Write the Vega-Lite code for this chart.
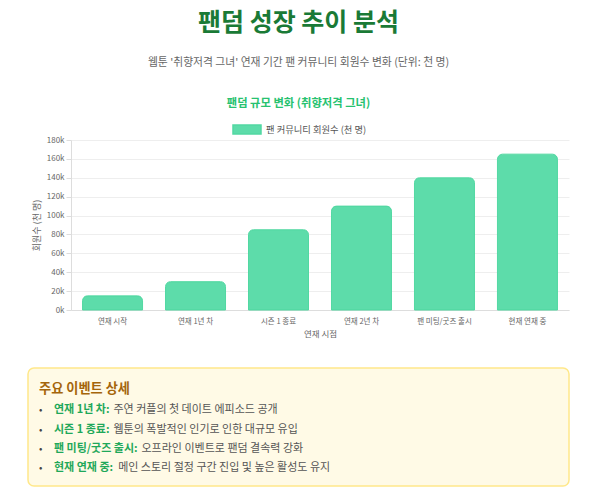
{
  "$schema": "https://vega.github.io/schema/vega-lite/v6.json",
  "background": "white",
  "padding": {"left": 27, "top": 10, "right": 20, "bottom": 0},
  "title": {
    "text": "팬덤 성장 추이 분석",
    "subtitle": "웹툰 '취향저격 그녀' 연재 기간 팬 커뮤니티 회원수 변화 (단위: 천 명)",
    "anchor": "middle",
    "fontSize": 25,
    "fontWeight": "bold",
    "color": "#1a7a36",
    "subtitleFontSize": 10.8,
    "subtitleColor": "#666",
    "subtitlePadding": 21.5,
    "offset": 29.5
  },
  "config": {
    "font": "Noto Sans CJK KR",
    "view": {"stroke": null}
  },
  "spacing": 29,
  "vconcat": [
    {
      "width": 541,
      "height": 170,
      "title": {
        "text": "팬덤 규모 변화 (취향저격 그녀)",
        "fontSize": 11.3,
        "fontWeight": "bold",
        "color": "#27c270",
        "offset": 27
      },
      "data": {
        "values": [
          {"stage": "연재 시작", "members": 15000, "series": "팬 커뮤니티 회원수 (천 명)"},
          {"stage": "연재 1년 차", "members": 30000, "series": "팬 커뮤니티 회원수 (천 명)"},
          {"stage": "시즌 1 종료", "members": 85000, "series": "팬 커뮤니티 회원수 (천 명)"},
          {"stage": "연재 2년 차", "members": 110000, "series": "팬 커뮤니티 회원수 (천 명)"},
          {"stage": "팬 미팅/굿즈 출시", "members": 140000, "series": "팬 커뮤니티 회원수 (천 명)"},
          {"stage": "현재 연재 중", "members": 165000, "series": "팬 커뮤니티 회원수 (천 명)"}
        ]
      },
      "mark": {
        "type": "bar",
        "cornerRadiusTopLeft": 5,
        "cornerRadiusTopRight": 5,
        "stroke": "#52d8a2",
        "strokeWidth": 1
      },
      "encoding": {
        "x": {
          "field": "stage",
          "type": "nominal",
          "sort": null,
          "title": "연재 시점",
          "scale": {"range": [43, 541], "paddingInner": 0.277, "paddingOuter": 0.139},
          "axis": {
            "labelAngle": 0,
            "labelFontSize": 7.5,
            "labelColor": "#666",
            "labelPadding": 7,
            "ticks": false,
            "domainColor": "#ddd",
            "titleFontSize": 8.5,
            "titleColor": "#666",
            "titleFontWeight": "normal",
            "titlePadding": 5
          }
        },
        "y": {
          "field": "members",
          "type": "quantitative",
          "title": "회원수 (천 명)",
          "scale": {"domain": [0, 180000]},
          "axis": {
            "offset": -43,
            "tickCount": 9,
            "labelExpr": "datum.value / 1000 + 'k'",
            "labelFontSize": 8,
            "labelColor": "#666",
            "tickColor": "#ddd",
            "tickSize": 5,
            "labelPadding": 2,
            "gridColor": "#eee",
            "domainColor": "#ddd",
            "titleFontSize": 9,
            "titleColor": "#666",
            "titleFontWeight": "normal",
            "titlePadding": 5
          }
        },
        "color": {
          "field": "series",
          "type": "nominal",
          "scale": {"range": ["#5ddcaa"]},
          "legend": {
            "orient": "none",
            "legendX": 204,
            "legendY": -25.5,
            "padding": 0,
            "title": null,
            "symbolType": "M-1,-0.32H1V0.32H-1Z",
            "symbolSize": 784,
            "symbolOpacity": 1,
            "labelFontSize": 9.3,
            "labelColor": "#555",
            "labelOffset": 4
          }
        }
      }
    },
    {
      "width": 541,
      "height": 118,
      "view": {"fill": "#fffae6", "stroke": "#ffe88a", "strokeWidth": 1.5, "cornerRadius": 6},
      "encoding": {
        "x": {"datum": 0, "type": "quantitative", "scale": {"domain": [0, 1]}, "axis": null},
        "y": {
          "field": "label",
          "type": "nominal",
          "sort": null,
          "scale": {
            "type": "point",
            "domain": ["주요 이벤트 상세", "연재 1년 차:", "시즌 1 종료:", "팬 미팅/굿즈 출시:", "현재 연재 중:"],
            "range": [22, 99],
            "padding": 0
          },
          "axis": null
        }
      },
      "layer": [
        {
          "data": {"values": [{"label": "주요 이벤트 상세"}]},
          "mark": {"type": "text", "align": "left", "baseline": "middle", "dx": 11, "dy": -1, "fontSize": 13.2, "fontWeight": "bold", "color": "#a5650b"},
          "encoding": {"text": {"field": "label"}}
        },
        {
          "data": {"values": [
            {"label": "연재 1년 차:", "desc": "주연 커플의 첫 데이트 에피소드 공개"},
            {"label": "시즌 1 종료:", "desc": "웹툰의 폭발적인 인기로 인한 대규모 유입"},
            {"label": "팬 미팅/굿즈 출시:", "desc": "오프라인 이벤트로 팬덤 결속력 강화"},
            {"label": "현재 연재 중:", "desc": "메인 스토리 절정 구간 진입 및 높은 활성도 유지"}
          ]},
          "layer": [
            {
              "mark": {"type": "text", "align": "left", "baseline": "middle", "dx": 11, "dy": 1, "fontSize": 10, "color": "#444"},
              "encoding": {"text": {"value": "•"}}
            },
            {
              "mark": {"type": "text", "align": "left", "baseline": "middle", "dx": 26, "dy": 1, "fontSize": 11, "fontWeight": "bold", "color": "#1fa85a"},
              "encoding": {"text": {"field": "label"}}
            },
            {
              "mark": {
                "type": "text",
                "align": "left",
                "baseline": "middle",
                "dy": 1,
                "fontSize": 11,
                "color": "#555",
                "dx": {"expr": "29.5 + (length(datum.label) - length(replace(datum.label, regexp('[가-힣]', 'g'), ''))) * 9.33 + length(replace(datum.label, regexp('[가-힣]', 'g'), '')) * 4.67"}
              },
              "encoding": {"text": {"field": "desc"}}
            }
          ]
        }
      ]
    }
  ]
}
